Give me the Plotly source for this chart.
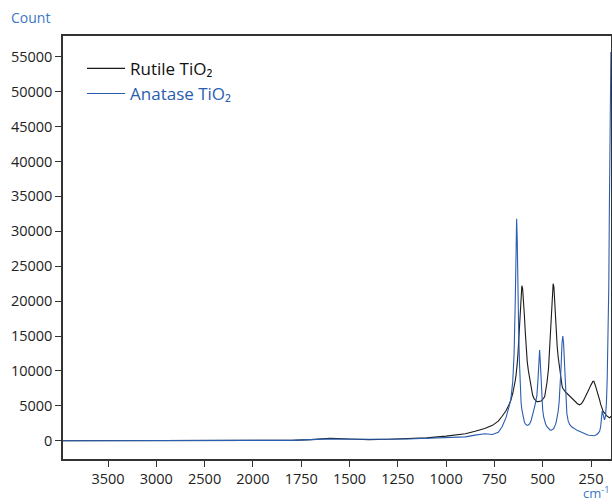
import plotly.graph_objects as go

# Raman shift (cm-1), descending
wavenumber = [3966, 3500, 3000, 2500, 2000, 1800, 1700, 1600, 1500, 1400, 1300, 1200, 1100,
              1000, 950, 900, 850, 800, 760, 730, 710, 690, 675, 665, 655, 648, 642, 638, 635,
              632, 628, 624, 620, 616, 612, 608, 604, 600, 595, 590, 585, 580, 574, 568, 560,
              552, 544, 536, 530, 525, 520, 516, 512, 508, 504, 500, 495, 490, 485, 478, 470,
              462, 455, 450, 446, 442, 438, 434, 430, 425, 420, 415, 410, 405, 400, 396, 392,
              388, 384, 380, 375, 368, 360, 350, 340, 330, 320, 310, 300, 290, 280, 270, 260,
              250, 245, 240, 235, 230, 225, 220, 212, 205, 200, 196, 192, 188, 184, 180, 175,
              170, 166, 162, 158, 155, 152, 149, 147]

rutile = [0, 0, 0, 0, 0, 50, 150, 350, 250, 150, 200, 300, 400,
          650, 800, 1000, 1350, 1750, 2200, 2800, 3500, 4300, 5100, 5800, 6800, 7600, 8600, 9400, 10000,
          11000, 12500, 14500, 16500, 19000, 21500, 22200, 21800, 20500, 18000, 15500, 13000, 11300, 10000, 9000, 7500,
          6500, 6000, 5700, 5600, 5600, 5600, 5600, 5650, 5700, 5800, 5900, 6100, 6300, 7000, 8300, 10300,
          14500, 19000, 21500, 22500, 22000, 19500, 17000, 15000, 13500, 12000, 10800, 9600, 8600, 7900, 7500, 7300,
          7100, 7000, 6900, 6800, 6600, 6300, 6000, 5800, 5500, 5300, 5150, 5300, 5700, 6200, 6800, 7400,
          8000, 8300, 8500, 8500, 8200, 7700, 7200, 6600, 5800, 5200, 4800, 4500, 4300, 4100, 4000, 3800,
          3600, 3500, 3400, 3300, 3300, 3300, 3400, 3500]

anatase = [0, 0, 0, 0, 0, 50, 150, 250, 200, 150, 200, 250, 350,
           400, 450, 550, 800, 1000, 900, 1200, 2000, 3300, 4800, 5900, 8500, 12500, 20000, 27500, 31800,
           29000, 20000, 15000, 11000, 7500, 5500, 4500, 3800, 3200, 2700, 2400, 2250, 2200, 2250, 2400, 2900,
           3600, 4600, 5600, 6500, 8500, 12000, 13000, 11000, 8500, 6000, 4400, 3400, 2800, 2400, 2000, 1700,
           1550, 1500, 1550, 1650, 1800, 2000, 2300, 2700, 3300, 4200, 5500, 7500, 10500, 14000, 15000, 14000,
           12000, 9500, 6500, 3900, 2800, 2300, 2000, 1800, 1600, 1450, 1350, 1200, 1050, 950, 850, 780,
           730, 710, 700, 710, 750, 800, 900, 1100, 1400, 2000, 3500, 4300, 3800, 3200, 3000, 3500,
           5500, 9000, 14500, 22000, 33000, 45000, 53000, 55700]

tick_values = [3500, 3000, 2500, 2000, 1750, 1500, 1250, 1000, 750, 500, 250]
tick_labels = ["3500", "3000", "2500", "2000", "1750", "1500", "1250", "1000", "750", "500", "250"]
y_ticks = list(range(0, 55001, 5000))

BLUE = "#2a5db0"
LABEL_BLUE = "#3b78c4"
FONT = "Open Sans"


def axis_pos(wn):
    # the axis is compressed by half above 2000 cm-1
    return wn if wn <= 2000 else 2000 + (wn - 2000) / 2


xpos = [axis_pos(w) for w in wavenumber]

fig = go.Figure()
fig.add_trace(go.Scatter(x=xpos, y=rutile, mode="lines", name="Rutile TiO₂",
                         line=dict(color="#1a1a1a", width=1.1)))
fig.add_trace(go.Scatter(x=xpos, y=anatase, mode="lines",
                         name=f"<span style='color:{BLUE}'>Anatase TiO₂</span>",
                         line=dict(color=BLUE, width=1.1)))

fig.update_layout(
    template="none",
    width=612, height=504,
    margin=dict(l=63, r=1, t=36, b=45, autoexpand=False),
    paper_bgcolor="white", plot_bgcolor="white",
    font=dict(family=FONT, size=14, color="#222"),
    showlegend=True,
    legend=dict(x=0.0347, y=0.965, xanchor="left", yanchor="top",
                bgcolor="rgba(0,0,0,0)", font=dict(size=17, color="#111"),
                tracegroupgap=0, itemwidth=38),
    xaxis=dict(range=[axis_pos(3966), 146.5], tickmode="array",
               tickvals=[axis_pos(v) for v in tick_values], ticktext=tick_labels,
               automargin=False,
               showgrid=False, zeroline=False, showline=True, mirror=True,
               linecolor="#333", linewidth=1.5, ticks="outside", ticklen=6,
               tickcolor="#333", tickfont=dict(size=14.5, color="#222")),
    yaxis=dict(range=[-2620, 57980], tickmode="array", tickvals=y_ticks,
               ticktext=[str(v) for v in y_ticks], automargin=False,
               showgrid=False, zeroline=False, showline=True, mirror=True,
               linecolor="#333", linewidth=1.5, ticks="outside", ticklen=6,
               tickcolor="#333", tickfont=dict(size=14.5, color="#222")),
    annotations=[
        dict(text="Count", xref="paper", yref="paper", x=-54 / 548, y=1 + 18 / 423,
             xanchor="left", yanchor="middle", showarrow=False,
             font=dict(size=14, color=LABEL_BLUE)),
        dict(text="cm<sup>-1</sup>", xref="paper", yref="paper", x=1.0,
             y=-34 / 423, xanchor="right", yanchor="middle", showarrow=False,
             font=dict(size=13, color=LABEL_BLUE)),
    ],
)

fig.write_html("out.html", config={"displayModeBar": False},
               post_script="document.body.style.margin='0';")
